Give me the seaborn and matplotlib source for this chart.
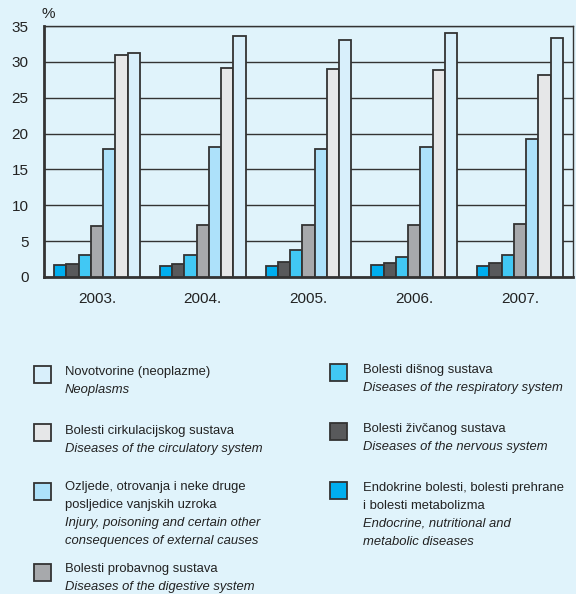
import matplotlib
matplotlib.use("Agg")
import matplotlib.pyplot as plt
import seaborn as sns
import pandas as pd
from matplotlib.patches import Rectangle
from matplotlib import font_manager

years = ["2003.", "2004.", "2005.", "2006.", "2007."]
categories = ["Endocrine", "Nervous", "Respiratory", "Digestive", "Injury", "Circulatory", "Neoplasms"]
endocrine = [1.7, 1.5, 1.5, 1.7, 1.6]
nervous = [1.8, 1.8, 2.1, 1.9, 2.0]
respiratory = [3.1, 3.1, 3.7, 2.8, 3.0]
digestive = [7.1, 7.2, 7.2, 7.2, 7.4]
injury = [17.9, 18.1, 17.9, 18.1, 19.2]
circulatory = [31.0, 29.2, 29.0, 28.9, 28.1]
neoplasms = [31.3, 33.6, 33.0, 34.0, 33.3]
series = [endocrine, nervous, respiratory, digestive, injury, circulatory, neoplasms]
colors = ["#00AEEF", "#58595B", "#41C8F4", "#A7A9AC", "#ADE1FA", "#E6E7E8", "#D8EFFB"]
yticks = [0, 5, 10, 15, 20, 25, 30, 35]

rows = []
for cat, vals in zip(categories, series):
    for y, v in zip(years, vals):
        rows.append({"year": y, "cat": cat, "value": v})
df = pd.DataFrame(rows)

bg = "#E0F3FB"
sns.set_theme(style="white")
plt.rcParams["font.family"] = ["Liberation Sans", "DejaVu Sans"]

names = {f.name for f in font_manager.fontManager.ttflist}
if "Liberation Sans Narrow" in names:
    tick_family = ["Liberation Sans Narrow", "DejaVu Sans"]
    tick_size = 12
else:
    tick_family = ["Liberation Sans", "DejaVu Sans"]
    tick_size = 11

fig = plt.figure(figsize=(5.76, 5.94), dpi=100, facecolor=bg)
ax = fig.add_axes([44/576, 1-277/594, (573-44)/576, (277-26)/594])
ax.set_facecolor(bg)

sns.barplot(data=df, x="year", y="value", hue="cat", hue_order=categories,
            order=years, palette=dict(zip(categories, colors)), width=0.81,
            edgecolor="#333333", linewidth=1.3, saturation=1, gap=0,
            legend=False, ax=ax, zorder=3)

ax.set_ylim(0, 35)
ax.set_xlim(-0.5, 4.5)
ax.set_yticks(yticks)
ax.set_yticklabels([str(t) for t in yticks])
ax.yaxis.grid(True, color="#333333", linewidth=1.0, zorder=0)
ax.set_axisbelow(True)
ax.set_xlabel("")
ax.set_ylabel("")
ax.tick_params(axis="both", length=0, colors="#222222")
ax.tick_params(axis="y", pad=11)
ax.tick_params(axis="x", pad=11)
for lab in ax.get_xticklabels() + ax.get_yticklabels():
    lab.set_family(tick_family)
    lab.set_fontsize(tick_size)
for s in ["left", "bottom"]:
    ax.spines[s].set_color("#333333")
    ax.spines[s].set_linewidth(2)
for s in ["top", "right"]:
    ax.spines[s].set_color("#333333")
    ax.spines[s].set_linewidth(1)
fig.text(42/576, 1-14/594, "%", fontsize=tick_size, family=tick_family,
         color="#222222", ha="left", va="center")

# custom legend
def px(x, y):
    return x/576, 1-y/594

fs = 9.4
def entry(px_x, patch_top, text_x, color, lines):
    fig.patches.append(Rectangle(px(px_x, patch_top + 17), 17/576, 17/594,
                                 transform=fig.transFigure, facecolor=color,
                                 edgecolor="#333333", linewidth=1.3))
    for (y, txt, italic) in lines:
        fig.text(*px(text_x, y), txt, fontsize=fs, color="#222222",
                 style="italic" if italic else "normal", ha="left", va="center")

entry(34, 366, 65, colors[6], [(372, "Novotvorine (neoplazme)", False), (390, "Neoplasms", True)])
entry(34, 424, 65, colors[5], [(431, "Bolesti cirkulacijskog sustava", False), (449, "Diseases of the circulatory system", True)])
entry(34, 483, 65, colors[4], [(487, "Ozljede, otrovanja i neke druge", False),
                               (505, "posljedice vanjskih uzroka", False),
                               (523, "Injury, poisoning and certain other", True),
                               (541, "consequences of external causes", True)])
entry(34, 564, 65, colors[3], [(569, "Bolesti probavnog sustava", False), (587, "Diseases of the digestive system", True)])
entry(330, 364, 363, colors[2], [(370, "Bolesti dišnog sustava", False), (388, "Diseases of the respiratory system", True)])
entry(330, 423, 363, colors[1], [(429, "Bolesti živčanog sustava", False), (447, "Diseases of the nervous system", True)])
entry(330, 482, 363, colors[0], [(488, "Endokrine bolesti, bolesti prehrane", False),
                                 (506, "i bolesti metabolizma", False),
                                 (524, "Endocrine, nutritional and", True),
                                 (542, "metabolic diseases", True)])

fig.savefig("out.png", dpi=100, facecolor=bg)
